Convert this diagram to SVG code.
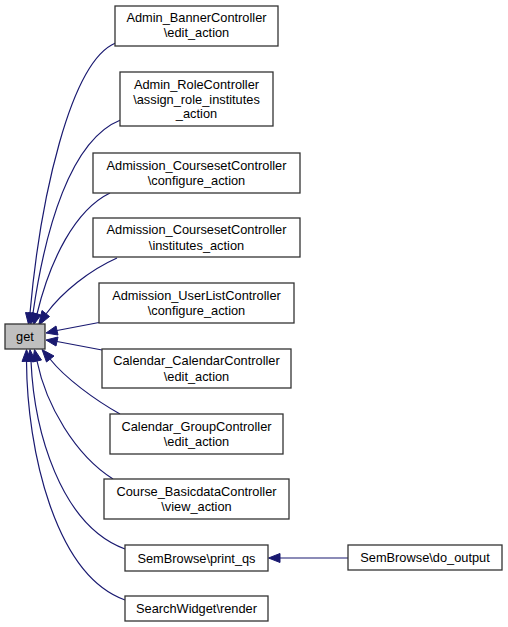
<svg xmlns="http://www.w3.org/2000/svg" width="508" height="627" viewBox="0 0 508 627">
<style>
.box{fill:#ffffff;stroke:#333333;stroke-width:1.3}
.hl{fill:#bfbfbf;stroke:#333333;stroke-width:1.3}
text{font-family:"Liberation Sans",Arial,sans-serif;font-size:12.8px;fill:#000;text-anchor:middle}
.e{fill:none;stroke:#191970;stroke-width:1.2}
.ah{fill:#191970;stroke:#191970;stroke-width:1}
</style>
<rect width="508" height="627" fill="#ffffff"/>
<g id="connectors">
<path class="e" d="M115.5,43 C70,62 40,200 30,313"/>
<polygon class="ah" points="25.5,312.5 34.5,313.5 28.5,324.5"/>
<path class="e" d="M120.5,120 C70,140 45,230 33,313"/>
<polygon class="ah" points="28.5,312.5 37.5,314 30.5,324.5"/>
<path class="e" d="M110,193 C75,210 50,260 37,314"/>
<polygon class="ah" points="32,312.5 41,315 33.5,325"/>
<path class="e" d="M117,258 C90,270 62,292 46,314"/>
<polygon class="ah" points="42,310.5 49.5,316.5 38.5,325.5"/>
<path class="e" d="M99,322.5 L57,330.5"/>
<polygon class="ah" points="56,326 58,335 46,333"/>
<path class="e" d="M102,350 L57,341.5"/>
<polygon class="ah" points="58,337 56,346 46,340"/>
<path class="e" d="M120,414 C95,400 65,378 50,359"/>
<polygon class="ah" points="46.5,362 54,356 42,349.5"/>
<path class="e" d="M113,479 C75,455 46,405 37,361"/>
<polygon class="ah" points="32.5,362 41.5,360 34.5,349.5"/>
<path class="e" d="M125,549 C60,525 34,430 31,361"/>
<polygon class="ah" points="26.5,361.5 35.5,361 30,349.5"/>
<path class="e" d="M125,600 C55,575 27,450 26.5,361"/>
<polygon class="ah" points="22,361.5 31,361 26.5,349.5"/>
<path class="e" d="M348,558 L280,558"/>
<polygon class="ah" points="280,553.5 280,562.5 268.5,558"/>
</g>
<g id="node-get">
<rect class="hl" x="5" y="324" width="40" height="25"/>
<text x="25" y="341">get</text>
</g>
<g id="node-banner">
<rect class="box" x="115" y="6" width="163" height="40"/>
<text x="196.5" y="21.5">Admin_BannerController</text>
<text x="196.5" y="37">\edit_action</text>
</g>
<g id="node-role">
<rect class="box" x="120" y="72" width="153" height="54"/>
<text x="196.5" y="88.5">Admin_RoleController</text>
<text x="196.5" y="103.5">\assign_role_institutes</text>
<text x="196.5" y="118">_action</text>
</g>
<g id="node-cs-configure">
<rect class="box" x="93" y="153" width="207" height="40"/>
<text x="196.5" y="169.8">Admission_CoursesetController</text>
<text x="196.5" y="185.2">\configure_action</text>
</g>
<g id="node-cs-institutes">
<rect class="box" x="93" y="218" width="207" height="39"/>
<text x="196.5" y="234.3">Admission_CoursesetController</text>
<text x="196.5" y="249.7">\institutes_action</text>
</g>
<g id="node-userlist">
<rect class="box" x="99" y="283" width="195" height="40"/>
<text x="196.5" y="299.8">Admission_UserListController</text>
<text x="196.5" y="315.2">\configure_action</text>
</g>
<g id="node-calendar">
<rect class="box" x="102" y="349" width="189" height="39"/>
<text x="196.5" y="365.3">Calendar_CalendarController</text>
<text x="196.5" y="380.7">\edit_action</text>
</g>
<g id="node-group">
<rect class="box" x="110" y="414" width="173" height="40"/>
<text x="196.5" y="430.8">Calendar_GroupController</text>
<text x="196.5" y="446.2">\edit_action</text>
</g>
<g id="node-basicdata">
<rect class="box" x="104" y="479" width="185" height="40"/>
<text x="196.5" y="495.8">Course_BasicdataController</text>
<text x="196.5" y="511.2">\view_action</text>
</g>
<g id="node-printqs">
<rect class="box" x="125" y="545" width="143" height="26"/>
<text x="196.5" y="562.5">SemBrowse\print_qs</text>
</g>
<g id="node-search">
<rect class="box" x="125" y="596" width="143" height="25"/>
<text x="196.5" y="613">SearchWidget\render</text>
</g>
<g id="node-dooutput">
<rect class="box" x="348" y="545" width="154" height="25"/>
<text x="425" y="562">SemBrowse\do_output</text>
</g>
</svg>
